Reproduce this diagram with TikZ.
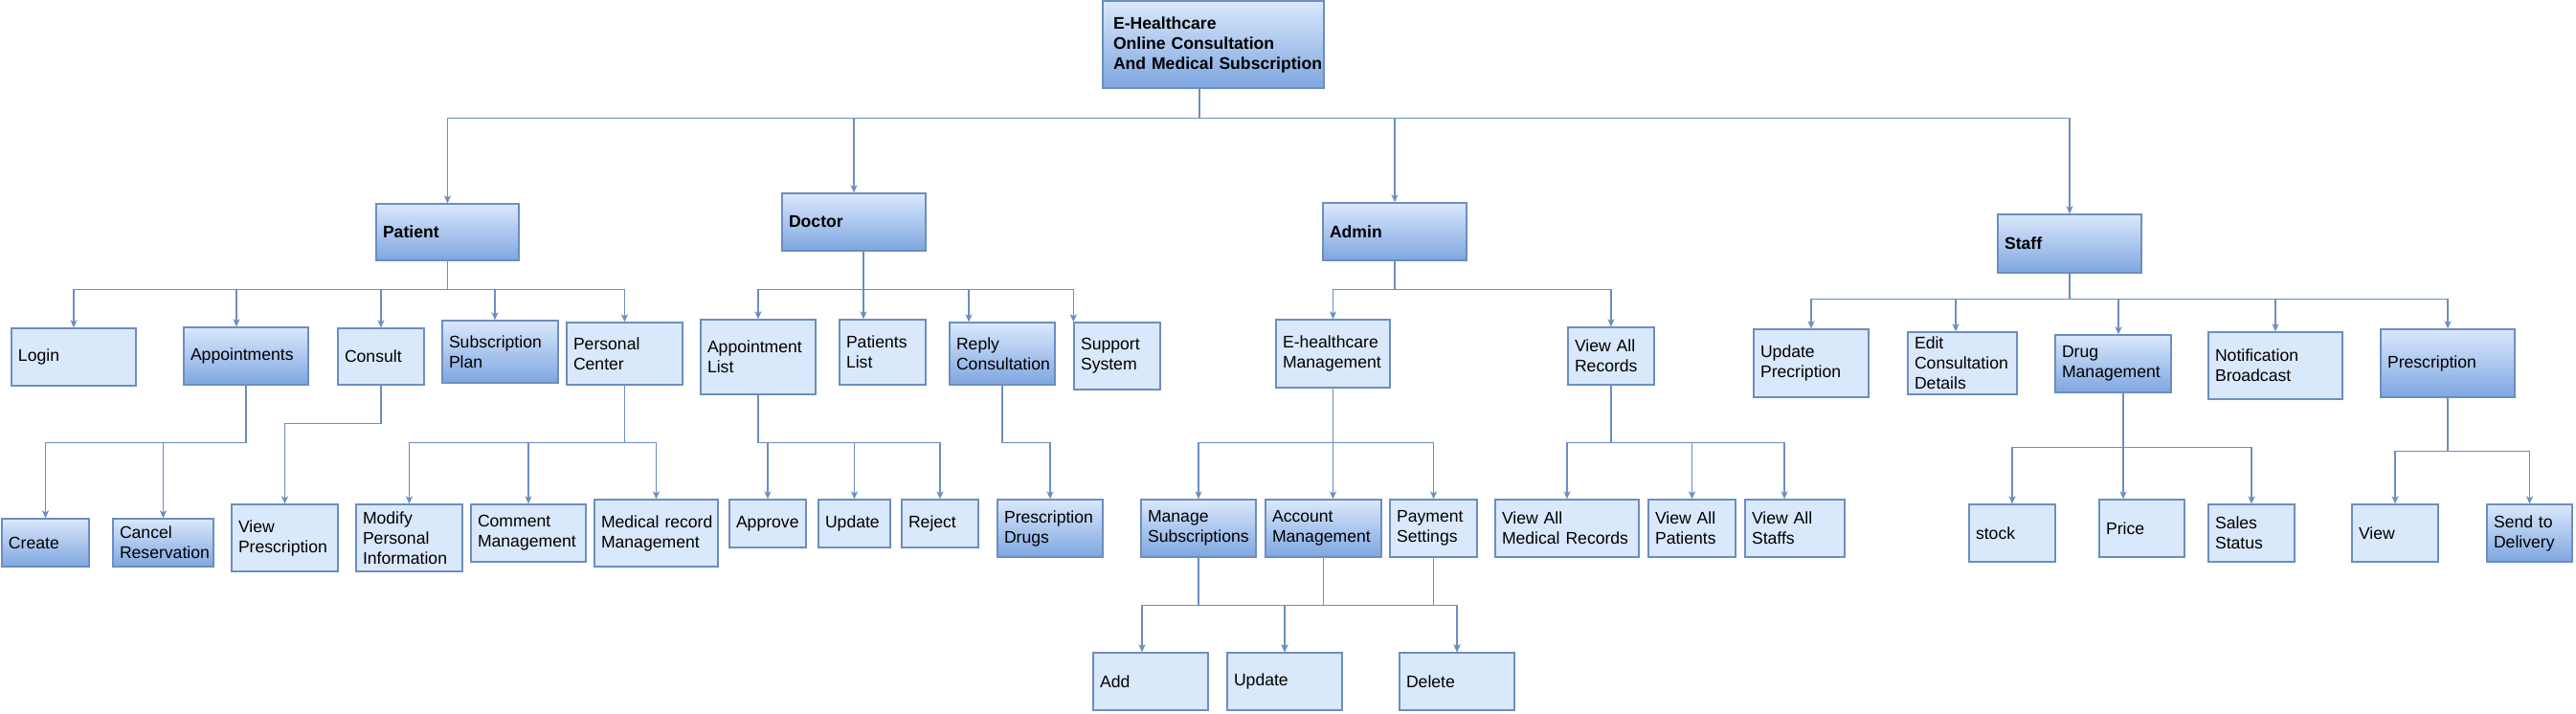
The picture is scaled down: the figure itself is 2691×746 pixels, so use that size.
\documentclass[tikz,border=0pt]{standalone}
\usepackage{fontspec}
\setmainfont{Liberation Sans}
\usetikzlibrary{arrows.meta}
\definecolor{boxlite}{HTML}{DAE8FC}
\definecolor{boxdark}{HTML}{7EA6E0}
\definecolor{boxline}{HTML}{6C8EBF}
\hyphenpenalty=10000
\exhyphenpenalty=10000

\begin{document}
\begin{tikzpicture}[x=1pt,y=-1pt,
  box/.style={draw=boxline, line width=1.3pt, inner xsep=7pt, inner ysep=2pt,
    align=left, font=\fontsize{17.6}{21}\selectfont},
  lite/.style={box, fill=boxlite},
  dark/.style={box, top color=boxlite, bottom color=boxdark},
  role/.style={dark, font=\fontsize{17.6}{21}\selectfont\bfseries},
  link/.style={draw=boxline, line width=1.3pt,
    -{Stealth[length=8pt,width=7pt,inset=2pt]}}]
\useasboundingbox (0,0) rectangle (2691,746);

% top
\node[role, inner xsep=11pt, text width=209pt, minimum height=91pt] (root) at (1267.5,46.5)
  {E-Healthcare\\Online Consultation\\And~Medical~Subscription};

% roles
\node[role, text width=135pt, minimum height=59pt] (patient) at (467.5,242.5) {Patient};
\node[role, text width=136pt, minimum height=60pt] (doctor) at (892,232) {Doctor};
\node[role, text width=136pt, minimum height=60pt] (admin) at (1457,242) {Admin};
\node[role, text width=136pt, minimum height=61pt] (staff) at (2162,254.5) {Staff};

% patient
\node[lite, text width=116pt, minimum height=60pt] (login) at (77,373) {Login};
\node[dark, text width=116pt, minimum height=60pt] (appts) at (257,372) {Appointments};
\node[lite, text width=76pt, minimum height=59pt] (consult) at (398,372.5) {Consult};
\node[dark, text width=107pt, minimum height=65pt] (subplan) at (522.5,367.5) {Subscription\\Plan};
\node[lite, text width=107pt, minimum height=65pt] (pcenter) at (652.5,369.5) {Personal\\Center};

\node[dark, text width=77pt, minimum height=50pt] (create) at (47.5,567) {Create};
\node[dark, text width=91pt, minimum height=50pt] (cancel) at (170.5,567) {Cancel\\Reservation};
\node[lite, text width=97pt, minimum height=70pt] (viewpres) at (297.5,562) {View\\Prescription};
\node[lite, text width=97pt, minimum height=70pt] (modify) at (427.5,562) {Modify\\Personal\\Information};
\node[lite, text width=106pt, minimum height=60pt] (comment) at (552,557) {Comment\\Management};
\node[lite, text width=115pt, minimum height=70pt] (medrec) at (685.5,557) {Medical~record\\Management};

% doctor
\node[lite, text width=106pt, minimum height=78pt] (applist) at (792,373) {Appointment\\List};
\node[lite, text width=76pt, minimum height=68pt] (patlist) at (922,368) {Patients\\List};
\node[dark, text width=96pt, minimum height=65pt] (reply) at (1047,369.5) {Reply\\Consultation};
\node[lite, text width=76pt, minimum height=70pt] (support) at (1167,372) {Support\\System};

\node[lite, text width=66pt, minimum height=50pt] (approve) at (802,547) {Approve};
\node[lite, text width=61pt, minimum height=50pt] (dupdate) at (892.5,547) {Update};
\node[lite, text width=66pt, minimum height=50pt] (reject) at (982,547) {Reject};
\node[dark, text width=96pt, minimum height=60pt] (presdrugs) at (1097,552) {Prescription\\Drugs};

% admin
\node[lite, text width=105pt, minimum height=71pt] (ehm) at (1392.5,369.5) {E-healthcare\\Management};
\node[lite, text width=76pt, minimum height=60pt] (varec) at (1683,372) {View All\\Records};

\node[dark, text width=106pt, minimum height=60pt] (msubs) at (1252,552) {Manage\\Subscriptions};
\node[dark, text width=107pt, minimum height=60pt] (acct) at (1382.5,552) {Account\\Management};
\node[lite, text width=77pt, minimum height=60pt] (payset) at (1497.5,552) {Payment\\Settings};
\node[lite, text width=136pt, minimum height=60pt] (vamr) at (1637,552) {View All\\Medical Records};
\node[lite, text width=77pt, minimum height=60pt] (vapat) at (1767.5,552) {View All\\Patients};
\node[lite, text width=90pt, minimum height=60pt] (vastaff) at (1875,552) {View All\\Staffs};

\node[lite, text width=106pt, minimum height=60pt] (add) at (1202,712) {Add};
\node[lite, text width=106pt, minimum height=60pt] (aupdate) at (1342,712) {Update};
\node[lite, text width=106pt, minimum height=60pt] (delete) at (1522,712) {Delete};

% staff
\node[lite, text width=106pt, minimum height=71pt] (updpres) at (1892,379.5) {Update\\Precription};
\node[lite, text width=100pt, minimum height=65pt] (editcons) at (2050,379.5) {Edit\\Consultation\\Details};
\node[dark, text width=107pt, minimum height=60pt] (drugmgmt) at (2207.5,380) {Drug\\Management};
\node[lite, text width=126pt, minimum height=70pt] (notif) at (2377,382) {Notification\\Broadcast};
\node[dark, text width=126pt, minimum height=71pt] (prescr) at (2557,379.5) {Prescription};

\node[lite, text width=76pt, minimum height=60pt] (stock) at (2102,557) {stock};
\node[lite, text width=75pt, minimum height=60pt] (price) at (2237.5,552) {Price};
\node[lite, text width=76pt, minimum height=60pt] (sales) at (2352,557) {Sales\\Status};
\node[lite, text width=76pt, minimum height=60pt] (view) at (2502,557) {View};
\node[dark, text width=75pt, minimum height=60pt] (send) at (2642.5,557) {Send to\\Delivery};

% links
\draw[link] ([xshift=-14.5pt]root.south) -- ++(0,31) -| (patient.north);
\draw[link] ([xshift=-14.5pt]root.south) -- ++(0,31) -| (doctor.north);
\draw[link] ([xshift=-14.5pt]root.south) -- ++(0,31) -| (admin.north);
\draw[link] ([xshift=-14.5pt]root.south) -- ++(0,31) -| (staff.north);

\draw[link] (patient.south) -- ++(0,30) -| (login.north);
\draw[link] (patient.south) -- ++(0,30) -| ([xshift=-10pt]appts.north);
\draw[link] (patient.south) -- ++(0,30) -| (consult.north);
\draw[link] (patient.south) -- ++(0,30) -| ([xshift=-5.5pt]subplan.north);
\draw[link] (patient.south) -- ++(0,30) -| (pcenter.north);
\draw[link] (appts.south) -- ++(0,60) -| (create.north);
\draw[link] (appts.south) -- ++(0,60) -| (cancel.north);
\draw[link] (consult.south) -- ++(0,40) -| (viewpres.north);
\draw[link] (pcenter.south) -- ++(0,60) -| (modify.north);
\draw[link] (pcenter.south) -- ++(0,60) -| (comment.north);
\draw[link] (pcenter.south) -- ++(0,60) -| (medrec.north);

\draw[link] ([xshift=10pt]doctor.south) -- ++(0,40) -| (applist.north);
\draw[link] ([xshift=10pt]doctor.south) -- ++(0,40) -| ([xshift=-20pt]patlist.north);
\draw[link] ([xshift=10pt]doctor.south) -- ++(0,40) -| ([xshift=-35pt]reply.north);
\draw[link] ([xshift=10pt]doctor.south) -- ++(0,40) -| (support.north west);
\draw[link] (applist.south) -- ++(0,50) -| (approve.north);
\draw[link] (applist.south) -- ++(0,50) -| (dupdate.north);
\draw[link] (applist.south) -- ++(0,50) -| (reject.north);
\draw[link] (reply.south) -- ++(0,60) -| (presdrugs.north);

\draw[link] (admin.south) -- ++(0,30) -| (ehm.north);
\draw[link] (admin.south) -- ++(0,30) -| (varec.north);
\draw[link] (ehm.south) -- ++(0,57) -| (msubs.north);
\draw[link] (ehm.south) -- ++(0,57) -| ([xshift=10pt]acct.north);
\draw[link] (ehm.south) -- ++(0,57) -| (payset.north);
\draw[link] (varec.south) -- ++(0,60) -| (vamr.north);
\draw[link] (varec.south) -- ++(0,60) -| (vapat.north);
\draw[link] (varec.south) -- ++(0,60) -| ([xshift=-11pt]vastaff.north);
\draw[link] (msubs.south) -- ++(0,50) -| ([xshift=-9pt]add.north);
\draw[link] (msubs.south) -- ++(0,50) -| (aupdate.north);
\draw[link] (msubs.south) -- ++(0,50) -| (delete.north);
\draw[link] (acct.south) -- ++(0,50) -| (aupdate.north);
\draw[link] (payset.south) -- ++(0,50) -| (delete.north);

\draw[link] (staff.south) -- ++(0,27) -| (updpres.north);
\draw[link] (staff.south) -- ++(0,27) -| ([xshift=-7pt]editcons.north);
\draw[link] (staff.south) -- ++(0,27) -| ([xshift=5.5pt]drugmgmt.north);
\draw[link] (staff.south) -- ++(0,27) -| (notif.north);
\draw[link] (staff.south) -- ++(0,27) -| (prescr.north);
\draw[link] ([xshift=10.5pt]drugmgmt.south) -- ++(0,57) -| (stock.north);
\draw[link] ([xshift=10.5pt]drugmgmt.south) -- ++(0,57) -| ([xshift=-19.5pt]price.north);
\draw[link] ([xshift=10.5pt]drugmgmt.south) -- ++(0,57) -| (sales.north);
\draw[link] (prescr.south) -- ++(0,56) -| (view.north);
\draw[link] (prescr.south) -- ++(0,56) -| (send.north);
\end{tikzpicture}
\end{document}
